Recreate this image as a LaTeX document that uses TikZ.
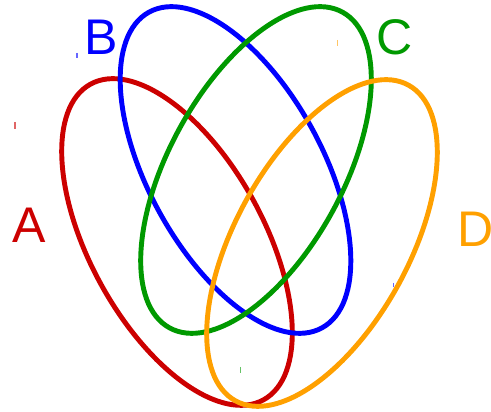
\documentclass[tikz,border=0pt]{standalone}
\usepackage{fontspec}
\setmainfont{Liberation Sans}
\usepackage{tikz}
\definecolor{setA}{RGB}{204,0,0}
\definecolor{setB}{RGB}{0,0,255}
\definecolor{setC}{RGB}{0,153,0}
\definecolor{setD}{RGB}{255,160,0}

\begin{document}
\begin{tikzpicture}[x=0.02cm,y=0.02cm,
  venn/.style={line width=2.8pt},
  setlabel/.style={font=\fontsize{28.5}{30}\selectfont},
  tick/.style={line width=0.6pt,opacity=0.6}]
 \useasboundingbox (0,0) rectangle (491,412);
 % the four sets
 \draw[venn,setA] (177,170) ellipse [x radius=180,y radius=87,rotate=-61.3];
 \draw[venn,setB] (235.5,242) ellipse [x radius=180,y radius=87,rotate=-61.3];
 \draw[venn,setC] (256,242) ellipse [x radius=180,y radius=87,rotate=61.3];
 \draw[venn,setD] (322,169) ellipse [x radius=180,y radius=87,rotate=61.3];
 % names
 \node[setlabel,text=setA] (labA) at (29,187) {A};
 \node[setlabel,text=setB] (labB) at (101,375) {B};
 \node[setlabel,text=setC] (labC) at (395,375) {C};
 \node[setlabel,text=setD] (labD) at (476,183) {D};
 % small marks
 \draw[tick,setA] (15,290) -- (15,283);
 \draw[tick,setB] (77,359) -- (77,354);
 \draw[tick,setD] (337.5,372) -- (337.5,366);
 \draw[tick,setC] (240.5,45) -- (240.5,39);
 \draw[tick,setB] (393.5,129) -- (393.5,125);
\end{tikzpicture}
\end{document}
